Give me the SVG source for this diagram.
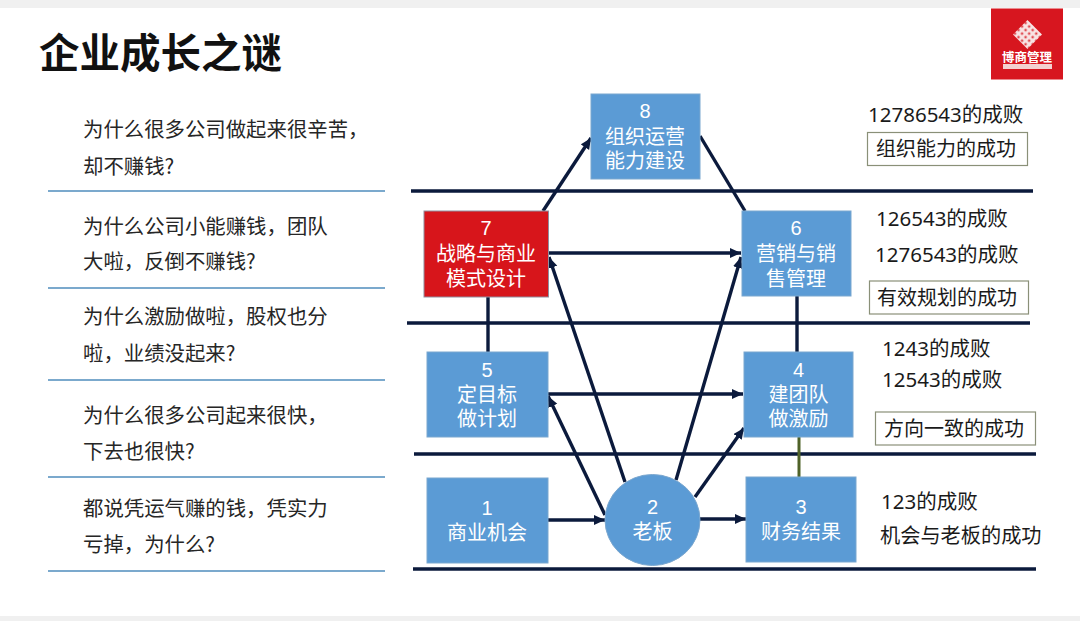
<svg xmlns="http://www.w3.org/2000/svg" width="1080" height="621" viewBox="0 0 1080 621">
<style>
text{font-family:"Noto Sans","Noto Sans CJK SC",sans-serif}
.n{fill:#5b9bd5;stroke:#7ba7cf;stroke-width:1}
.w{fill:#fff;font-size:20px;text-anchor:middle;font-family:"Liberation Sans","Noto Sans CJK SC",sans-serif}
.q{fill:#262626;font-size:20.400px;font-family:"Noto Sans CJK SC",sans-serif}
.r{fill:#1a1a1a;font-size:20.500px}
.t{font-size:20px}
.b{fill:#fff;stroke:#8a9078;stroke-width:1.200}
.sep{stroke:#0b1a3c;stroke-width:3.400;fill:none}
.lb{stroke:#7ba9cd;stroke-width:2;fill:none}
.c{stroke:#0b1a3c;stroke-width:3.400;fill:none}
.a{marker-end:url(#m)}
</style>
<defs>
<marker id="m" markerUnits="userSpaceOnUse" markerWidth="14" markerHeight="12" refX="11" refY="5" orient="auto">
<path d="M0,0L11,5L0,10Z" fill="#0b1a3c"/>
</marker>
<pattern id="lat" width="5" height="5" patternUnits="userSpaceOnUse" patternTransform="rotate(45 1027 35)">
<rect width="5" height="5" fill="#f8e4e4"/><rect x="1.500" y="1.500" width="2" height="2" fill="#d7161f"/>
</pattern>
</defs>
<rect width="1080" height="621" fill="#fff"/>
<rect width="1080" height="8" fill="#f0f0f0"/>
<rect y="616" width="1080" height="5" fill="#f0f0f0"/>
<text x="39" y="68" font-size="40.500" font-weight="700" fill="#111" style="font-family:'Noto Sans CJK SC',sans-serif">企业成长之谜</text>
<g id="logo">
<rect x="991" y="8.500" width="72" height="71" fill="#d7161f"/>
<path d="M1027.500,20L1042,34.500L1027.500,49L1013,34.500Z" fill="url(#lat)"/>
<text x="1027" y="62" font-size="12.500" fill="#fff" text-anchor="middle" font-weight="700" style="font-family:'Noto Sans CJK SC',sans-serif">博商管理</text>
<rect x="1003" y="64" width="49" height="5" fill="#f3d0d0"/>
</g>
<g id="questions">
<text class="q" x="83" y="137">为什么很多公司做起来很辛苦&#xFF0C;</text>
<text class="q" x="83" y="174">却不赚钱?</text>
<text class="q" x="83" y="234">为什么公司小能赚钱&#xFF0C;团队</text>
<text class="q" x="83" y="269">大啦&#xFF0C;反倒不赚钱?</text>
<text class="q" x="83" y="324">为什么激励做啦&#xFF0C;股权也分</text>
<text class="q" x="83" y="361">啦&#xFF0C;业绩没起来?</text>
<text class="q" x="83" y="423">为什么很多公司起来很快&#xFF0C;</text>
<text class="q" x="83" y="459">下去也很快?</text>
<text class="q" x="83" y="516">都说凭运气赚的钱&#xFF0C;凭实力</text>
<text class="q" x="83" y="552">亏掉&#xFF0C;为什么?</text>
<path class="lb" d="M48,191H385M48,288H385M48,380H385M48,477H385M48,571H385"/>
</g>
<g id="separators">
<path class="sep" d="M411,191H1033M407,323H1030M414,454H1036M413,569H1036"/>
</g>
<g id="connectors">
<path class="c a" d="M543,211L591,138"/>
<path class="c" d="M700,136L745,211"/>
<path class="c a" d="M549,253H741"/>
<path class="c a" d="M625,482L549,257"/>
<path class="c a" d="M676,480L741,257"/>
<path class="c" d="M797,296V352"/>
<path class="c" d="M488,297V352"/>
<path class="c a" d="M548,394H743"/>
<path class="c a" d="M605,515L548,396"/>
<path class="c a" d="M695,497L744,428"/>
<path class="c a" d="M548,520H605"/>
<path class="c a" d="M700,519H746"/>
<path d="M799,437V477" stroke="#4f6228" stroke-width="3" fill="none"/>
</g>
<g id="node8"><rect class="n" x="591" y="94" width="109" height="85"/><text class="w" x="645" y="118">8</text><text class="w" x="645" y="144">组织运营</text><text class="w" x="645" y="168">能力建设</text></g>
<g id="node7"><rect x="424" y="211" width="124.500" height="86" fill="#d7151b" stroke="#8f8f9f" stroke-width="1"/><text class="w" x="486" y="235">7</text><text class="w" x="486" y="261">战略与商业</text><text class="w" x="486" y="286">模式设计</text></g>
<g id="node6"><rect class="n" x="742" y="211" width="109" height="85"/><text class="w" x="796" y="235">6</text><text class="w" x="796" y="261">营销与销</text><text class="w" x="796" y="286">售管理</text></g>
<g id="node5"><rect class="n" x="427" y="352" width="121" height="85"/><text class="w" x="487" y="377">5</text><text class="w" x="487" y="402">定目标</text><text class="w" x="487" y="426">做计划</text></g>
<g id="node4"><rect class="n" x="744" y="352" width="109" height="85"/><text class="w" x="798.500" y="377">4</text><text class="w" x="798.500" y="402">建团队</text><text class="w" x="798.500" y="426">做激励</text></g>
<g id="node1"><rect class="n" x="427" y="478" width="121" height="85"/><text class="w" x="487" y="515">1</text><text class="w" x="487" y="540">商业机会</text></g>
<g id="node2"><ellipse class="n" cx="652.500" cy="520" rx="47.500" ry="45.500"/><text class="w" x="652.500" y="514">2</text><text class="w" x="652.500" y="539">老板</text></g>
<g id="node3"><rect class="n" x="746" y="477" width="110" height="85"/><text class="w" x="801" y="514">3</text><text class="w" x="801" y="539">财务结果</text></g>
<g id="results">
<text class="r" x="868" y="122">12786543的成败</text>
<g id="box-org"><rect class="b" x="867.500" y="132.500" width="160" height="33"/><text class="r t" x="876" y="156">组织能力的成功</text></g>
<text class="r" x="876" y="226">126543的成败</text>
<text class="r" x="875" y="262">1276543的成败</text>
<g id="box-plan"><rect class="b" x="869.500" y="281" width="159" height="33"/><text class="r t" x="877" y="305">有效规划的成功</text></g>
<text class="r" x="882" y="356">1243的成败</text>
<text class="r" x="882" y="387">12543的成败</text>
<g id="box-dir"><rect class="b" x="875.500" y="412" width="160" height="33"/><text class="r t" x="884" y="436">方向一致的成功</text></g>
<text class="r" x="881" y="509">123的成败</text>
<text class="r t" x="880" y="543" style="font-size:20.200px">机会与老板的成功</text>
</g>
</svg>
